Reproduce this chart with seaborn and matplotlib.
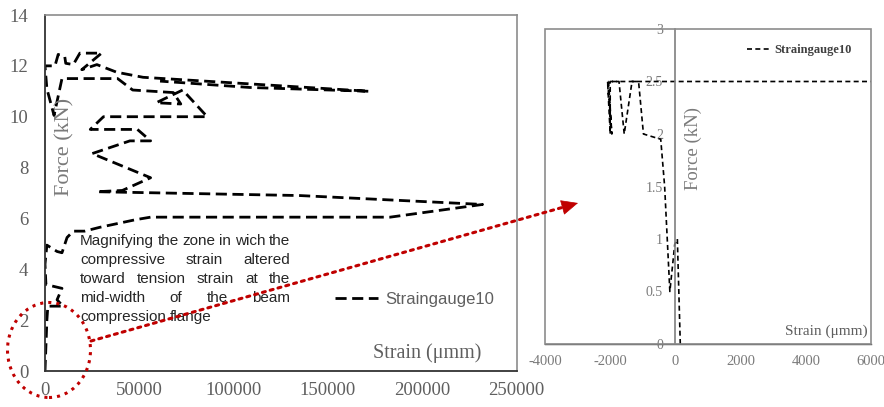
import matplotlib
matplotlib.use("Agg")
import matplotlib.pyplot as plt
import numpy as np
import pandas as pd
import seaborn as sns
from matplotlib.patches import Ellipse, FancyArrowPatch, Rectangle
from matplotlib.ticker import MultipleLocator, FuncFormatter

# ---------------- data ----------------
series_label = "Straingauge10"
x_label = "Strain (\u03bcmm)"
y_label = "Force (kN)"

# main chart (full loading history)
main_strain = [0, 500, 1000, 1500, 9500, 6400, 9000, 500, 0, 1000, 6400, 9000,
               11700, 15000, 21000, 29000, 48000, 56000, 183000, 232000, 135000,
               27500, 41000, 56000, 25000, 45000, 56000, 49000, 24000, 31000,
               86000, 73000, 59000, 72000, 68000, 46500, 38500, 9000, 4800,
               1000, 0, 5300, 7000, 10500, 11000, 15000, 18500, 30000, 19500,
               27500, 38000, 52000, 172000, 108500, 61000]
main_force = [0, 1.0, 2.0, 2.55, 2.55, 2.8, 3.25, 3.4, 4.2, 4.95, 4.7, 4.65,
              5.25, 5.5, 5.5, 5.65, 5.95, 6.05, 6.05, 6.55, 6.9,
              7.05, 7.1, 7.6, 8.55, 9.05, 9.05, 9.5, 9.5, 10.0,
              10.0, 11.05, 10.55, 10.5, 10.95, 11.05, 11.5, 11.5, 10.05,
              11.1, 12.0, 12.0, 12.45, 12.35, 12.1, 12.05, 12.5, 12.5, 11.85,
              12.05, 11.75, 11.55, 11.0, 11.15, 11.4]

# magnified zone (0 - 3 kN)
zoom_strain = [150, 60, -20, -170, -330, -450, -980, -1130, -1330, -1570,
               -1730, -2000, -2000, -2080, -1950, -2050, 9500]
zoom_force = [0.0, 1.0, 0.95, 0.5, 1.5, 1.95, 2.0, 2.5, 2.5, 2.0,
              2.5, 2.5, 2.0, 2.5, 2.0, 2.5, 2.5]

note_lines = ["Magnifying the zone in wich the",
              "compressive strain altered",
              "toward tension strain at the",
              "mid-width of the beam",
              "compression flange"]

main_df = pd.DataFrame({"strain": main_strain, "force": main_force})
zoom_df = pd.DataFrame({"strain": zoom_strain, "force": zoom_force})

# ---------------- style ----------------
sns.set_style("white")
plt.rcParams["font.family"] = ["Liberation Serif", "DejaVu Serif"]
plt.rcParams["axes.unicode_minus"] = False

W, H = 884, 407
fig = plt.figure(figsize=(W / 100, H / 100), dpi=100)
fig.patch.set_facecolor("white")

GREY = "#5f5f5f"
LGREY = "#7a7a7a"

# ---------------- main chart ----------------
ax1 = fig.add_axes([45 / W, 1 - 371 / H, 471.5 / W, 356 / H])
sns.lineplot(data=main_df, x="strain", y="force", sort=False, estimator=None,
             ax=ax1, color="black", lw=2.0, linestyle=(0, (4, 2)),
             label=series_label)
ax1.set_xlim(0, 250000)
ax1.set_ylim(0, 14)
ax1.xaxis.set_major_locator(MultipleLocator(50000))
ax1.xaxis.set_minor_locator(MultipleLocator(25000))
ax1.yaxis.set_major_locator(MultipleLocator(2))
ax1.yaxis.set_minor_locator(MultipleLocator(1))
ax1.tick_params(axis="both", which="both", direction="in", length=4,
                width=1, color="#333333", labelcolor=GREY, labelsize=13.5)
ax1.tick_params(axis="x", pad=8)
ax1.tick_params(axis="y", pad=12)
ax1.set_xlabel("")
ax1.set_ylabel("")
for s in ["left", "bottom"]:
    ax1.spines[s].set_color("#333333")
    ax1.spines[s].set_linewidth(1.3)
for s in ["top", "right"]:
    ax1.spines[s].set_color("#8c8c8c")
    ax1.spines[s].set_linewidth(1.2)
ax1.text(0.042, 0.63, y_label, transform=ax1.transAxes, rotation=90,
         ha="center", va="center", fontsize=16, color=LGREY)
ax1.text(0.81, 0.05, x_label, transform=ax1.transAxes, ha="center",
         va="center", fontsize=14.5, color=GREY)
leg1 = ax1.legend(loc="center left", bbox_to_anchor=(0.615, 0.202),
                  frameon=False, handlelength=2.6, handletextpad=0.4,
                  borderaxespad=0, borderpad=0,
                  prop={"family": "Liberation Sans", "size": 12})
for t in leg1.get_texts():
    t.set_color(GREY)

# ---------------- magnified chart ----------------
ax2 = fig.add_axes([545 / W, 1 - 344 / H, 326 / W, 315 / H])
sns.lineplot(data=zoom_df, x="strain", y="force", sort=False, estimator=None,
             ax=ax2, color="black", lw=1.2, linestyle=(0, (3, 2)),
             label=series_label)
ax2.set_xlim(-4000, 6000)
ax2.set_ylim(0, 3)
ax2.xaxis.set_major_locator(MultipleLocator(2000))
ax2.xaxis.set_minor_locator(MultipleLocator(500))
ax2.yaxis.set_major_locator(MultipleLocator(0.5))
ax2.yaxis.set_major_formatter(FuncFormatter(lambda v, p: f"{v:g}"))
ax2.xaxis.set_major_formatter(FuncFormatter(lambda v, p: f"{v:g}"))
ax2.spines["left"].set_position(("data", 0))
ax2.spines["left"].set_color("#7f7f7f")
ax2.spines["left"].set_linewidth(1.2)
ax2.spines["bottom"].set_color("#404040")
ax2.spines["bottom"].set_linewidth(1.0)
ax2.spines["top"].set_visible(False)
ax2.spines["right"].set_visible(False)
ax2.add_patch(Rectangle((0, 0), 1, 1, transform=ax2.transAxes, fill=False,
                        ec="#8c8c8c", lw=1.2, clip_on=False, zorder=3))
ax2.tick_params(axis="x", which="both", direction="out", length=3,
                width=0.9, color="#404040", labelcolor=LGREY, labelsize=10.5,
                pad=5)
ax2.tick_params(axis="y", which="both", direction="in", length=3,
                width=0.9, color="#7f7f7f", labelcolor=LGREY, labelsize=10,
                pad=9)
ax2.set_xlabel("")
ax2.set_ylabel("")
ax2.text(0.454, 0.62, y_label, transform=ax2.transAxes, rotation=90,
         ha="center", va="center", fontsize=13.5, color=LGREY)
ax2.text(0.862, 0.041, x_label, transform=ax2.transAxes, ha="center",
         va="center", fontsize=11, color=GREY)
leg2 = ax2.legend(loc="center left", bbox_to_anchor=(0.62, 0.933),
                  frameon=False, handlelength=2.0, handletextpad=0.15,
                  borderaxespad=0, borderpad=0,
                  prop={"family": "Liberation Serif", "size": 9,
                        "weight": "bold"})
for t in leg2.get_texts():
    t.set_color("#404040")

# ---------------- annotation (justified text) ----------------
renderer = fig.canvas.get_renderer()
x0, x1 = 80, 290
baselines = [245, 264, 283, 302, 321]
for i, (line, yb) in enumerate(zip(note_lines, baselines)):
    words = line.split(" ")
    texts = [fig.text(0, 0, w, fontsize=11, family="Liberation Sans",
                      color="#262626", ha="left", va="baseline", zorder=5)
             for w in words]
    widths = [t.get_window_extent(renderer).width for t in texts]
    last = i == len(note_lines) - 1
    if last or len(words) == 1:
        gap = 0.28 * 11 * 100 / 72
    else:
        gap = (x1 - x0 - sum(widths)) / (len(words) - 1)
    x = x0
    for t, w in zip(texts, widths):
        t.set_position((x / W, 1 - yb / H))
        x += w + gap

# ---------------- red dotted circle and arrow ----------------
RED = "#C00000"
ell = Ellipse((49 / W, 1 - 350 / H), 83 / W, 95 / H, transform=fig.transFigure,
              fill=False, ec=RED, ls=":", lw=2.2, zorder=6)
fig.add_artist(ell)

start = np.array([91.0, 341.0])
tip = np.array([578.0, 203.0])
u = (tip - start) / np.linalg.norm(tip - start)
base = tip - 14 * u


def fpos(p):
    return (p[0] / W, 1 - p[1] / H)


shaft = FancyArrowPatch(fpos(start), fpos(base), transform=fig.transFigure,
                        arrowstyle="-", color=RED, ls=":", lw=2.2,
                        shrinkA=0, shrinkB=0, zorder=6)
fig.add_artist(shaft)
head = FancyArrowPatch(fpos(base - 2 * u), fpos(tip), transform=fig.transFigure,
                       arrowstyle="-|>,head_length=0.55,head_width=0.25",
                       mutation_scale=20, color=RED, lw=0.5,
                       shrinkA=0, shrinkB=0, zorder=6)
fig.add_artist(head)

fig.savefig("out.png", dpi=100)
